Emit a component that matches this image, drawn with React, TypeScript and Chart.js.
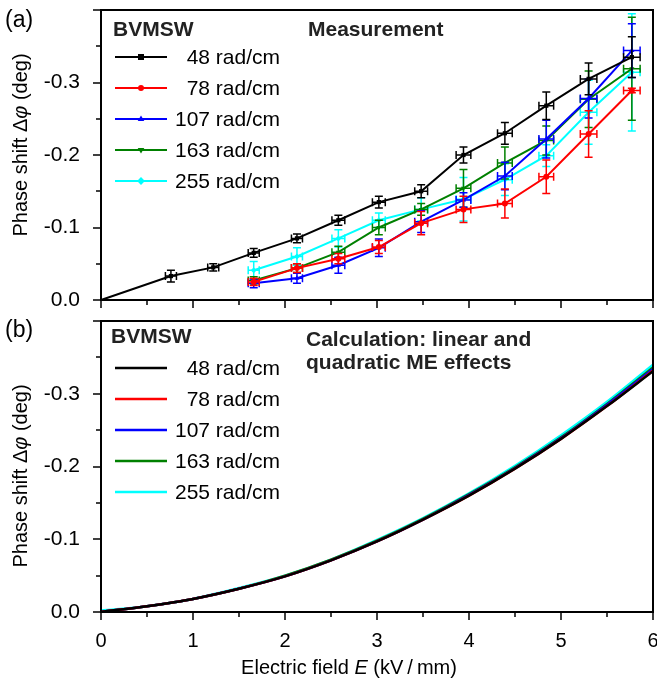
import React, { useEffect, useRef } from "react";
import { Chart, registerables } from "chart.js";

Chart.register(...registerables);

const FONT = '"Liberation Sans", Arial, Helvetica, sans-serif';

// ---------- shared ----------
const seriesLabels = ["48 rad/cm", "78 rad/cm", "107 rad/cm", "163 rad/cm", "255 rad/cm"];
const seriesColors = ["#000000", "#ff0000", "#0000ff", "#008000", "#00ffff"];
const markerStyles = ["rect", "circle", "triangle", "triangle", "rectRot"];
const markerRotations = [0, 0, 0, 180, 0];

const yTickValues = [0, 0.1, 0.2, 0.3];
const yTickLabels = ["0.0", "-0.1", "-0.2", "-0.3"];
const xTickValues = [0, 1, 2, 3, 4, 5, 6];
const xTickLabels = ["0", "1", "2", "3", "4", "5", "6"];

// ---------- panel (a): measurement (|Δφ| in deg) ----------
const fieldBlack = [0, 0.76, 1.22, 1.66, 2.13, 2.58, 3.02, 3.48, 3.94, 4.39, 4.84, 5.30, 5.77];
const phaseBlack = [0, 0.033, 0.045, 0.065, 0.085, 0.110, 0.135, 0.150, 0.200, 0.230, 0.268, 0.305, 0.335];
const errYBlack = [0, 0.008, 0.005, 0.006, 0.006, 0.007, 0.008, 0.009, 0.011, 0.015, 0.019, 0.022, 0.028];
const errXBlack = [0, 0.06, 0.06, 0.06, 0.06, 0.07, 0.07, 0.07, 0.08, 0.08, 0.08, 0.09, 0.09];

const fieldOthers = [1.66, 2.13, 2.58, 3.02, 3.48, 3.94, 4.39, 4.84, 5.30, 5.77];
const errXOthers = [0.06, 0.06, 0.07, 0.07, 0.07, 0.08, 0.08, 0.08, 0.09, 0.09];

const phaseRed = [0.025, 0.044, 0.057, 0.073, 0.106, 0.125, 0.133, 0.170, 0.229, 0.289];
const errYRed = [0.005, 0.006, 0.007, 0.009, 0.016, 0.018, 0.020, 0.023, 0.032, 0.003];

const phaseBlue = [0.023, 0.030, 0.048, 0.072, 0.108, 0.138, 0.171, 0.222, 0.278, 0.344];
const errYBlue = [0.006, 0.007, 0.011, 0.012, 0.015, 0.010, 0.019, 0.026, 0.027, 0.037];

const phaseGreen = [0.027, 0.044, 0.066, 0.100, 0.125, 0.154, 0.189, 0.220, 0.277, 0.319];
const errYGreen = [0.005, 0.006, 0.008, 0.010, 0.008, 0.026, 0.022, 0.020, 0.039, 0.071];

const phaseCyan = [0.041, 0.060, 0.085, 0.110, 0.125, 0.139, 0.166, 0.199, 0.259, 0.314];
const errYCyan = [0.012, 0.012, 0.012, 0.010, 0.016, 0.030, 0.022, 0.015, 0.044, 0.081];

// ---------- panel (b): calculation ----------
const fieldCalc = [0, 0.5, 1, 1.5, 2, 2.5, 3, 3.5, 4, 4.5, 5, 5.5, 6];
const calcBlack = [0, 0.008, 0.018, 0.032, 0.049, 0.071, 0.097, 0.127, 0.160, 0.197, 0.238, 0.283, 0.331];
const calcRed = [0, 0.008, 0.018, 0.032, 0.049, 0.071, 0.097, 0.127, 0.160, 0.197, 0.238, 0.283, 0.332];
const calcBlue = [0, 0.008, 0.018, 0.032, 0.049, 0.071, 0.097, 0.127, 0.161, 0.198, 0.239, 0.285, 0.334];
const calcGreen = [0, 0.008, 0.018, 0.032, 0.050, 0.072, 0.098, 0.128, 0.162, 0.199, 0.240, 0.286, 0.336];
const calcCyan = [0.002, 0.008, 0.018, 0.033, 0.050, 0.072, 0.099, 0.129, 0.163, 0.201, 0.243, 0.289, 0.340];

// ---------- helpers ----------
function yTickCallback(value: number) {
  const idx = yTickValues.findIndex((t) => Math.abs(t - value) < 1e-6);
  return idx >= 0 ? yTickLabels[idx] : "";
}
function xTickCallback(value: number) {
  const idx = xTickValues.findIndex((t) => Math.abs(t - value) < 1e-6);
  return idx >= 0 ? xTickLabels[idx] : "";
}

function drawMarker(ctx: CanvasRenderingContext2D, style: string, rot: number, x: number, y: number, r: number, color: string) {
  ctx.save();
  ctx.fillStyle = color;
  ctx.translate(x, y);
  ctx.rotate((rot * Math.PI) / 180);
  ctx.beginPath();
  if (style === "rect") {
    ctx.rect(-r, -r, 2 * r, 2 * r);
  } else if (style === "circle") {
    ctx.arc(0, 0, r, 0, Math.PI * 2);
  } else if (style === "triangle") {
    ctx.moveTo(0, -r * 1.2);
    ctx.lineTo(r * 1.1, r * 0.7);
    ctx.lineTo(-r * 1.1, r * 0.7);
    ctx.closePath();
  } else {
    ctx.moveTo(0, -r * 1.3);
    ctx.lineTo(r * 1.3, 0);
    ctx.lineTo(0, r * 1.3);
    ctx.lineTo(-r * 1.3, 0);
    ctx.closePath();
  }
  ctx.fill();
  ctx.restore();
}

function drawMixed(ctx: CanvasRenderingContext2D, parts: { t: string; italic?: boolean; bold?: boolean }[], size: number, cx: number, cy: number, rotate: boolean) {
  ctx.save();
  ctx.translate(cx, cy);
  if (rotate) ctx.rotate(-Math.PI / 2);
  ctx.fillStyle = "#000";
  ctx.textBaseline = "middle";
  ctx.textAlign = "left";
  const fonts = parts.map((p) => `${p.italic ? "italic " : ""}${p.bold ? "bold " : ""}${size}px ${FONT}`);
  let total = 0;
  const widths = parts.map((p, i) => {
    ctx.font = fonts[i];
    const w = ctx.measureText(p.t).width;
    total += w;
    return w;
  });
  let x = -total / 2;
  parts.forEach((p, i) => {
    ctx.font = fonts[i];
    ctx.fillText(p.t, x, 0);
    x += widths[i];
  });
  ctx.restore();
}

function drawFrameAndTicks(chart: any) {
  const ctx: CanvasRenderingContext2D = chart.ctx;
  const { left, right, top, bottom } = chart.chartArea;
  ctx.save();
  ctx.strokeStyle = "#000";
  ctx.lineWidth = 2;
  ctx.strokeRect(left, top, right - left, bottom - top);
  ctx.lineWidth = 1.5;
  const ys = chart.scales.y;
  ys.ticks.forEach((t: any) => {
    const v = t.value;
    const major = Math.abs(v * 10 - Math.round(v * 10)) < 1e-6;
    const py = Math.round(ys.getPixelForValue(v));
    ctx.beginPath();
    ctx.moveTo(left, py);
    ctx.lineTo(left - (major ? 8 : 5), py);
    ctx.stroke();
  });
  const xs = chart.scales.x;
  xs.ticks.forEach((t: any) => {
    const v = t.value;
    const major = Math.abs(v - Math.round(v)) < 1e-6;
    const px = Math.round(xs.getPixelForValue(v));
    ctx.beginPath();
    ctx.moveTo(px, bottom);
    ctx.lineTo(px, bottom + (major ? 8 : 5));
    ctx.stroke();
  });
  ctx.restore();
}

function drawLegend(chart: any, withMarkers: boolean) {
  const ctx: CanvasRenderingContext2D = chart.ctx;
  const top = chart.chartArea.top;
  ctx.save();
  chart.data.datasets.forEach((ds: any, i: number) => {
    const y = top + 47 + 31 * i;
    ctx.strokeStyle = ds.borderColor;
    ctx.lineWidth = withMarkers ? 2 : 2.5;
    ctx.beginPath();
    ctx.moveTo(115, y);
    ctx.lineTo(167, y);
    ctx.stroke();
    if (withMarkers) drawMarker(ctx, markerStyles[i], markerRotations[i], 141, y, 3, ds.borderColor);
    ctx.fillStyle = "#000";
    ctx.font = `21px ${FONT}`;
    ctx.textAlign = "right";
    ctx.textBaseline = "middle";
    ctx.fillText(ds.label, 280, y + 1);
  });
  ctx.restore();
}

function drawText(ctx: CanvasRenderingContext2D, text: string, x: number, y: number, font: string, color = "#000") {
  ctx.save();
  ctx.font = font;
  ctx.fillStyle = color;
  ctx.textAlign = "left";
  ctx.textBaseline = "middle";
  ctx.fillText(text, x, y);
  ctx.restore();
}

const yTitleParts = [{ t: "Phase shift Δ" }, { t: "φ", italic: true }, { t: " (deg)" }];
const xTitleParts = [{ t: "Electric field " }, { t: "E", italic: true }, { t: " (kV\u2009/\u2009mm)" }];

const errorBarPlugin = {
  id: "errorBars",
  afterDatasetDraw(chart: any, args: any) {
    const ds = chart.data.datasets[args.index];
    if (!ds.errY) return;
    const ctx: CanvasRenderingContext2D = chart.ctx;
    const xs = chart.scales.x;
    const ys = chart.scales.y;
    ctx.save();
    ctx.strokeStyle = ds.borderColor;
    ctx.lineWidth = 1.5;
    ds.data.forEach((p: any, k: number) => {
      const px = xs.getPixelForValue(p.x);
      const py = ys.getPixelForValue(p.y);
      const ey = ds.errY[k];
      const ex = ds.errX[k];
      ctx.beginPath();
      if (ey > 0) {
        const y1 = ys.getPixelForValue(p.y + ey);
        const y2 = ys.getPixelForValue(p.y - ey);
        ctx.moveTo(px, y1);
        ctx.lineTo(px, y2);
        ctx.moveTo(px - 4, y1);
        ctx.lineTo(px + 4, y1);
        ctx.moveTo(px - 4, y2);
        ctx.lineTo(px + 4, y2);
      }
      if (ex > 0) {
        const x1 = xs.getPixelForValue(p.x - ex);
        const x2 = xs.getPixelForValue(p.x + ex);
        ctx.moveTo(x1, py);
        ctx.lineTo(x2, py);
        ctx.moveTo(x1, py - 4);
        ctx.lineTo(x1, py + 4);
        ctx.moveTo(x2, py - 4);
        ctx.lineTo(x2, py + 4);
      }
      ctx.stroke();
    });
    ctx.restore();
  },
};

const decorA = {
  id: "decorA",
  afterDraw(chart: any) {
    const ctx: CanvasRenderingContext2D = chart.ctx;
    drawFrameAndTicks(chart);
    drawText(ctx, "(a)", 5, 21, `23px ${FONT}`);
    drawMixed(ctx, yTitleParts, 20, 21, 145, true);
    drawText(ctx, "BVMSW", 113, 30, `bold 21px ${FONT}`, "#222");
    drawText(ctx, "Measurement", 308, 30, `bold 21px ${FONT}`, "#222");
    drawLegend(chart, true);
  },
};

const decorB = {
  id: "decorB",
  afterDraw(chart: any) {
    const ctx: CanvasRenderingContext2D = chart.ctx;
    drawFrameAndTicks(chart);
    drawText(ctx, "(b)", 5, 21, `23px ${FONT}`);
    drawMixed(ctx, yTitleParts, 20, 21, 166, true);
    drawMixed(ctx, xTitleParts, 20, 349, 358, false);
    drawText(ctx, "BVMSW", 111, 27, `bold 21px ${FONT}`, "#222");
    drawText(ctx, "Calculation: linear and", 306, 30, `bold 21px ${FONT}`, "#222");
    drawText(ctx, "quadratic ME effects", 306, 53, `bold 21px ${FONT}`, "#222");
    drawLegend(chart, false);
  },
};

function zeroPadding(s: any) {
  s.paddingTop = 0;
  s.paddingBottom = 0;
  s.paddingLeft = 0;
  s.paddingRight = 0;
}

function baseScales(xHeight: number, showX: boolean) {
  return {
    x: {
      type: "linear",
      min: 0,
      max: 6,
      grid: { display: false, drawTicks: false },
      border: { display: false },
      ticks: {
        display: showX,
        stepSize: 0.5,
        autoSkip: false,
        maxRotation: 0,
        padding: 17,
        color: "#000",
        font: { family: FONT, size: 20 },
        callback: xTickCallback,
      },
      afterFit: (s: any) => {
        s.height = xHeight;
        zeroPadding(s);
      },
    },
    y: {
      type: "linear",
      min: 0,
      max: 0.4,
      grid: { display: false, drawTicks: false },
      border: { display: false },
      ticks: {
        stepSize: 0.05,
        autoSkip: false,
        padding: 21,
        color: "#000",
        font: { family: FONT, size: 21 },
        callback: yTickCallback,
      },
      afterFit: (s: any) => {
        s.width = 101;
        zeroPadding(s);
      },
    },
  };
}

function buildA(): any {
  const sets = [
    { x: fieldBlack, y: phaseBlack, ey: errYBlack, ex: errXBlack },
    { x: fieldOthers, y: phaseRed, ey: errYRed, ex: errXOthers },
    { x: fieldOthers, y: phaseBlue, ey: errYBlue, ex: errXOthers },
    { x: fieldOthers, y: phaseGreen, ey: errYGreen, ex: errXOthers },
    { x: fieldOthers, y: phaseCyan, ey: errYCyan, ex: errXOthers },
  ];
  return {
    type: "line",
    data: {
      datasets: sets.map((s, i) => ({
        label: seriesLabels[i],
        data: s.x.map((xv, k) => ({ x: xv, y: s.y[k] })),
        errY: s.ey,
        errX: s.ex,
        borderColor: seriesColors[i],
        backgroundColor: seriesColors[i],
        borderWidth: 2,
        pointStyle: markerStyles[i],
        pointRotation: markerRotations[i],
        pointRadius: s.x.map((xv) => (xv === 0 ? 0 : 3)),
        pointBorderWidth: 0,
        tension: 0,
        fill: false,
        clip: false,
      })),
    },
    options: {
      responsive: false,
      animation: false,
      events: [],
      layout: { autoPadding: false, padding: { top: 10, right: 4, left: 0, bottom: 0 } },
      plugins: { legend: { display: false }, tooltip: { enabled: false } },
      scales: baseScales(10, false),
    },
    plugins: [errorBarPlugin, decorA],
  };
}

function buildB(): any {
  const curves = [calcBlack, calcRed, calcBlue, calcGreen, calcCyan];
  return {
    type: "line",
    data: {
      datasets: curves.map((c, i) => ({
        label: seriesLabels[i],
        data: fieldCalc.map((xv, k) => ({ x: xv, y: c[k] })),
        borderColor: seriesColors[i],
        backgroundColor: seriesColors[i],
        borderWidth: 2.5,
        pointRadius: 0,
        cubicInterpolationMode: "monotone",
        fill: false,
      })),
    },
    options: {
      responsive: false,
      animation: false,
      events: [],
      layout: { autoPadding: false, padding: { top: 11, right: 4, left: 0, bottom: 0 } },
      plugins: { legend: { display: false }, tooltip: { enabled: false } },
      scales: baseScales(73, true),
    },
    plugins: [decorB],
  };
}

function Panel({ build, width, height, top }: { build: () => any; width: number; height: number; top: number }) {
  const ref = useRef<HTMLCanvasElement>(null);
  useEffect(() => {
    const chart = new Chart(ref.current as HTMLCanvasElement, build());
    return () => chart.destroy();
  }, [build]);
  return (
    <canvas
      ref={ref}
      width={width}
      height={height}
      style={{ position: "absolute", left: 0, top, width, height, display: "block" }}
    />
  );
}

export default function App() {
  return (
    <div style={{ position: "absolute", left: 0, top: 0, width: 657, height: 685, background: "#fff" }}>
      <Panel build={buildA} width={657} height={310} top={0} />
      <Panel build={buildB} width={657} height={375} top={310} />
    </div>
  );
}
